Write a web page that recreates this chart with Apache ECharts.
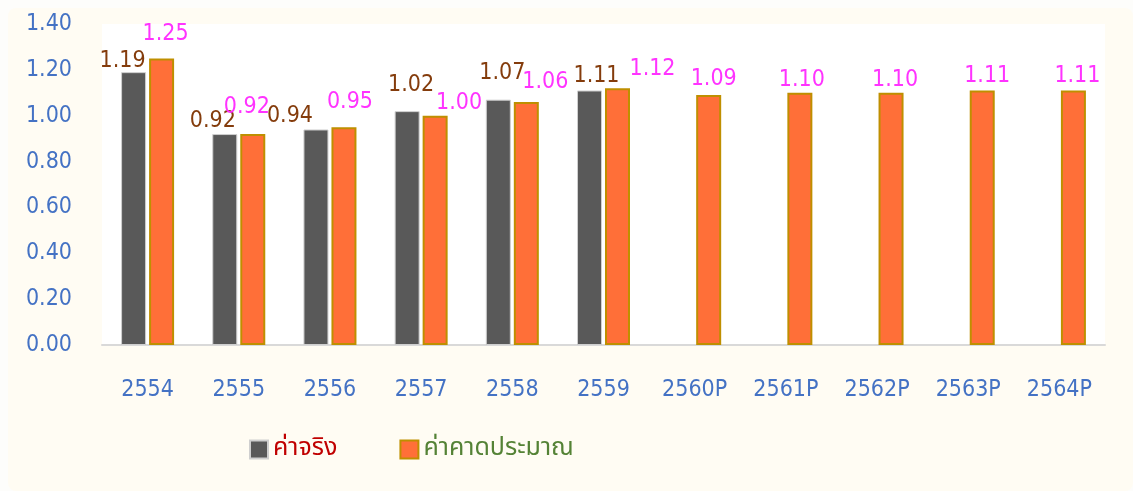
<!DOCTYPE html>
<html>
<head>
<meta charset="utf-8">
<script src="https://cdn.jsdelivr.net/npm/echarts@6/dist/echarts.min.js"></script>
<style>
  html, body { margin: 0; padding: 0; background: #fdfdfb; }
  .card {
    position: absolute; left: 8px; top: 8px; right: 0; bottom: 0;
    background: #fffcf3; border-radius: 8px;
  }
  #main { position: absolute; left: 0; top: 0; width: 1133px; height: 491px; }
</style>
</head>
<body>
<div class="card"></div>
<div id="main"></div>
<script>
var years = ["2554", "2555", "2556", "2557", "2558", "2559", "2560P", "2561P", "2562P", "2563P", "2564P"];
// ค่าจริง (actual)
var actual = [1.19, 0.92, 0.94, 1.02, 1.07, 1.11, null, null, null, null, null];
// ค่าคาดประมาณ (forecast)
var forecast = [1.25, 0.92, 0.95, 1.00, 1.06, 1.12, 1.09, 1.10, 1.10, 1.11, 1.11];
var yTicks = [0, 0.2, 0.4, 0.6, 0.8, 1.0, 1.2, 1.4];

// label nudges (dx, dy), as placed in the original sheet
var actualShift = [[-11, 5], [-12, 3], [-26, 3], [4, -10], [4, -10], [7, 2]];
var forecastShift = [[4, -8], [-6, -11], [6, -9], [24, 4], [19, -3], [35, -3],
  [5, 0], [2, 4], [4, 4], [5, 2], [4, 2]];

var FONT = "'DejaVu Sans Condensed', 'DejaVu Sans', sans-serif";
var THAI = "'Noto Sans Thai', 'Tahoma', 'DejaVu Sans', sans-serif";

function withLabels(values, shifts) {
  return values.map(function (v, i) {
    var s = shifts[i] || [0, 0];
    return { value: v, label: { offset: s } };
  });
}

var chart = echarts.init(document.getElementById("main"));
chart.setOption({
  animation: false,
  textStyle: { fontFamily: FONT },
  grid: {
    left: 102, right: 28, top: 24, bottom: 146,
    show: true, backgroundColor: "#ffffff", borderWidth: 0
  },
  legend: {
    left: 249, top: 437,
    padding: 0,
    icon: "rect",
    itemWidth: 18, itemHeight: 18, itemGap: 62,
    textStyle: { fontSize: 25, fontFamily: THAI },
    data: [
      { name: "ค่าจริง", textStyle: { color: "#c00000" } },
      { name: "ค่าคาดประมาณ", textStyle: { color: "#548235" } }
    ]
  },
  xAxis: {
    type: "category",
    data: years,
    axisLine: { lineStyle: { color: "#d9d9d9", width: 2 } },
    axisTick: { show: false },
    axisLabel: { color: "#4472c4", fontSize: 23, margin: 34, fontFamily: FONT }
  },
  yAxis: {
    type: "value",
    min: yTicks[0],
    max: yTicks[yTicks.length - 1],
    interval: 0.2,
    splitLine: { show: false },
    axisLine: { show: false },
    axisTick: { show: false },
    axisLabel: {
      color: "#4472c4", fontSize: 23, margin: 30, fontFamily: FONT,
      padding: [6, 0, 0, 0],
      formatter: function (v) { return v.toFixed(2); }
    }
  },
  series: [
    {
      name: "ค่าจริง",
      type: "bar",
      barWidth: 25,
      barGap: "12%",
      data: withLabels(actual, actualShift),
      itemStyle: { color: "#595959", borderColor: "#cfcfcf", borderWidth: 1 },
      label: {
        show: true, position: "top", color: "#843c0c", fontSize: 23, fontFamily: FONT,
        formatter: function (p) { return p.value == null ? "" : p.value.toFixed(2); }
      }
    },
    {
      name: "ค่าคาดประมาณ",
      type: "bar",
      barWidth: 25,
      data: withLabels(forecast, forecastShift),
      itemStyle: { color: "#ff6f38", borderColor: "#bf8f00", borderWidth: 2 },
      label: {
        show: true, position: "top", color: "#ff33ff", fontSize: 23, fontFamily: FONT,
        formatter: function (p) { return p.value.toFixed(2); }
      }
    }
  ]
});
</script>
</body>
</html>
